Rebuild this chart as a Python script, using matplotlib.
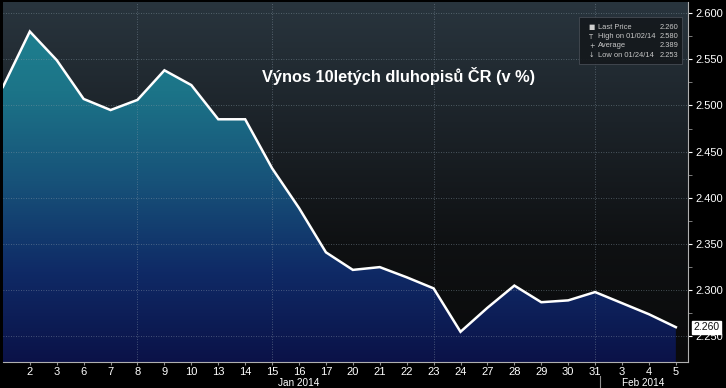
import numpy as np
import matplotlib.pyplot as plt
from matplotlib.colors import LinearSegmentedColormap

# data
days = ["", "2", "3", "6", "7", "8", "9", "10", "13", "14", "15", "16", "17",
        "20", "21", "22", "23", "24", "27", "28", "29", "30", "31", "3", "4", "5"]
yields = [2.520, 2.580, 2.549, 2.507, 2.495, 2.506, 2.538, 2.522, 2.485, 2.485,
          2.432, 2.389, 2.341, 2.322, 2.325, 2.314, 2.302, 2.255, 2.281, 2.305,
          2.287, 2.289, 2.298, 2.286, 2.274, 2.260]
months = ["Jan 2014", "Feb 2014"]
legend_rows = [("Last Price", "2.260"), ("High on 01/02/14", "2.580"),
               ("Average", "2.389"), ("Low on 01/24/14", "2.253")]
title = "Výnos 10letých dluhopisů ČR (v %)"

x = np.arange(len(yields))
y = np.array(yields)
ymin, ymax = 2.2223, 2.612
xmin, xmax = 0, 25.46

narrow = ["Liberation Sans", "DejaVu Sans"]

fig = plt.figure(figsize=(7.26, 3.88), dpi=100, facecolor="black")
ax = fig.add_axes([0.004, 0.067, 0.944, 0.928])
ax.set_facecolor("black")

# background gradient above the line
bg = LinearSegmentedColormap.from_list("bg", ["#0a0a0b", "#0f1113", "#1c2329", "#29353e"])
grad = np.linspace(0, 1, 256).reshape(-1, 1)
ax.imshow(grad, extent=[xmin, xmax, ymin, ymax], origin="lower", aspect="auto",
          cmap=bg, zorder=0)

# gradient fill under the line
fillc = LinearSegmentedColormap.from_list("fill", ["#0b1248", "#0f2a66", "#175279", "#1c7488", "#1f8592"])
poly = ax.fill_between(x, y, ymin, color="none", zorder=1)
im = ax.imshow(grad, extent=[xmin, xmax, ymin, ymax], origin="lower", aspect="auto",
               cmap=fillc, zorder=1)
im.set_clip_path(poly.get_paths()[0], transform=ax.transData)

ax.plot(x, y, color="white", lw=1.8, zorder=3, solid_joinstyle="miter")

ax.set_xlim(xmin, xmax)
ax.set_ylim(ymin, ymax)

# grid
for gy in np.arange(2.25, 2.601, 0.05):
    ax.axhline(gy, color="#8a9aa8", lw=0.6, ls=(0, (1, 2)), alpha=0.6, zorder=2)
for gx in [5, 10, 16, 22]:
    ax.axvline(gx, color="#8a9aa8", lw=0.6, ls=(0, (1, 2)), alpha=0.6, zorder=2)

# axes styling
for s in ["top", "left"]:
    ax.spines[s].set_visible(False)
ax.spines["right"].set_color("#b0b0b0")
ax.spines["bottom"].set_color("#b0b0b0")
ax.spines["right"].set_linewidth(0.8)
ax.spines["bottom"].set_linewidth(0.8)

ax.yaxis.tick_right()
ax.set_yticks(np.arange(2.25, 2.601, 0.05))
ax.set_yticklabels(["%.3f" % v for v in np.arange(2.25, 2.601, 0.05)])
ax.set_yticks(np.arange(2.275, 2.601, 0.05), minor=True)
ax.tick_params(axis="y", which="major", direction="out", length=3, color="white",
               labelcolor="white", labelsize=8, pad=2)
ax.tick_params(axis="y", which="minor", direction="out", length=3, color="#909090")
for lab in ax.get_yticklabels():
    lab.set_family(narrow)

ax.set_xticks(x[1:])
ax.set_xticklabels(days[1:])
ax.tick_params(axis="x", direction="out", length=2, color="#909090",
               labelcolor="white", labelsize=8, pad=1.5)
for lab in ax.get_xticklabels():
    lab.set_family(narrow)

# month labels and separator
ax.text(11.0, -0.045, months[0], transform=ax.get_xaxis_transform(), ha="center",
        va="top", color="white", fontsize=7.2, family=narrow)
ax.text(23.8, -0.045, months[1], transform=ax.get_xaxis_transform(), ha="center",
        va="top", color="white", fontsize=7.2, family=narrow)
ax.plot([22.2, 22.2], [-0.04, -0.075], transform=ax.get_xaxis_transform(),
        color="#909090", lw=0.8, clip_on=False)

# last price tag
ax.text(1.008, (y[-1] - ymin) / (ymax - ymin), "%.3f" % y[-1], transform=ax.transAxes,
        ha="left", va="center", color="#111111", fontsize=7.5, family=narrow, zorder=5,
        bbox=dict(boxstyle="square,pad=0.15", fc="white", ec="white"))

# title
ax.text(0.577, 0.795, title, transform=ax.transAxes, ha="center",
        va="center", color="white", fontsize=11.8, fontweight="bold",
        family=["Liberation Sans", "DejaVu Sans"], zorder=6)

# legend box
lx0, ly0 = 0.841, 0.828
ax.add_patch(plt.Rectangle((lx0, ly0), 0.150, 0.130, transform=ax.transAxes,
                           fc="#14181c", ec="#4a5058", lw=0.6, zorder=6, alpha=0.9))
markers = ["\u25a0", "T", "+", "\u2193"]
for i, (lab, val) in enumerate(legend_rows):
    yy = 0.930 - i * 0.026
    ax.text(lx0 + 0.014, yy, markers[i], transform=ax.transAxes, ha="left", va="center",
            color="#d0d0d0", fontsize=4.8, zorder=7)
    ax.text(lx0 + 0.027, yy, lab, transform=ax.transAxes, ha="left", va="center",
            color="#c8c8c8", fontsize=5.4, family=narrow, zorder=7)
    ax.text(lx0 + 0.145, yy, val, transform=ax.transAxes, ha="right", va="center",
            color="#c8c8c8", fontsize=5.4, family=narrow, zorder=7)

fig.savefig("out.png", dpi=100, facecolor="black")
